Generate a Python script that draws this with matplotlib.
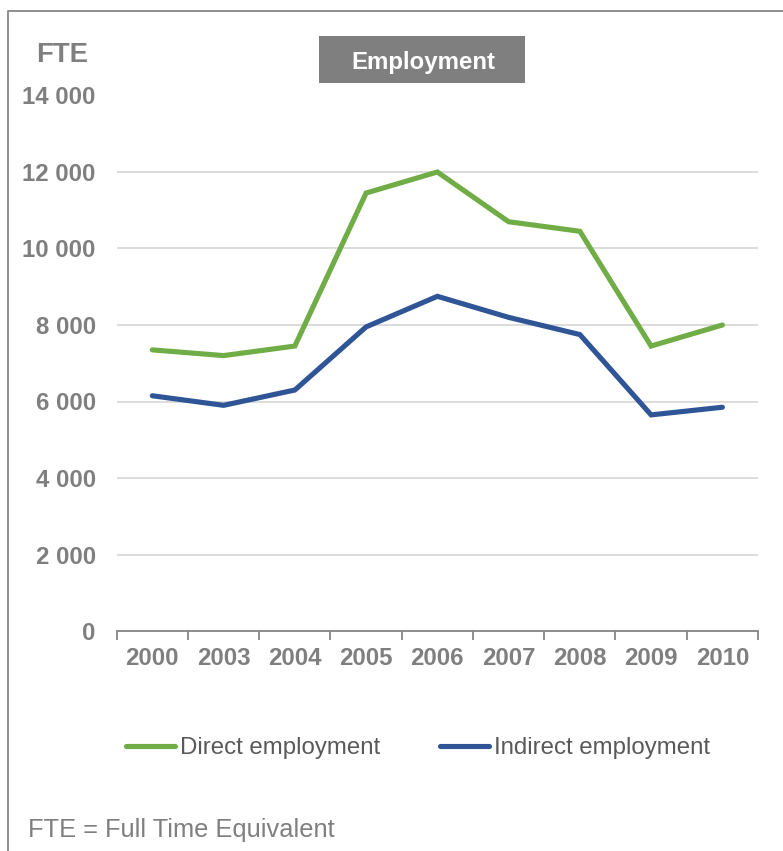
import matplotlib.pyplot as plt
from matplotlib.lines import Line2D
from matplotlib.patches import Rectangle

plt.rcParams['font.family'] = ['Liberation Sans', 'DejaVu Sans']

years = ["2000", "2003", "2004", "2005", "2006", "2007", "2008", "2009", "2010"]
direct_employment = [7350, 7200, 7450, 11450, 12000, 10700, 10450, 7450, 8000]
indirect_employment = [6150, 5900, 6300, 7950, 8750, 8200, 7750, 5650, 5850]
y_ticks = [0, 2000, 4000, 6000, 8000, 10000, 12000, 14000]

W, H = 783, 851
fig = plt.figure(figsize=(W / 100, H / 100), dpi=100)

def fx(px):
    return px / W

def fy(py):
    return 1 - py / H

ax = fig.add_axes([fx(116.7), fy(631), fx(758) - fx(116.7), fy(95.5) - fy(631)])

label_grey = "#7f7f7f"
x = [i + 0.5 for i in range(len(years))]
ax.plot(x, direct_employment, color="#70AD47", lw=3.7, solid_capstyle="round",
        solid_joinstyle="miter", label="Direct employment", zorder=3)
ax.plot(x, indirect_employment, color="#2F5597", lw=3.7, solid_capstyle="round",
        solid_joinstyle="miter", label="Indirect employment", zorder=3)

ax.set_xlim(0, len(years))
ax.set_ylim(0, 14000)

# category boundaries get the tick marks, centres get the labels
ax.set_xticks(range(len(years) + 1))
ax.set_xticklabels([])
ax.set_xticks(x, minor=True)
ax.set_xticklabels(years, minor=True)
ax.tick_params(axis="x", which="major", length=6.5, width=1.3, color="#868686", direction="out")
ax.tick_params(axis="x", which="minor", length=0, pad=11.5, labelsize=17.3, labelcolor=label_grey)
for lab in ax.get_xticklabels(minor=True):
    lab.set_fontweight("bold")

ax.set_yticks(y_ticks)
ax.set_yticklabels([f"{v:,}".replace(",", " ") for v in y_ticks])
ax.tick_params(axis="y", length=0, pad=15, labelsize=17.3, labelcolor=label_grey)
for lab in ax.get_yticklabels():
    lab.set_fontweight("bold")

ax.grid(axis="y", color="#d9d9d9", lw=1.3)
ax.set_axisbelow(True)
for side in ["left", "right", "top"]:
    ax.spines[side].set_visible(False)
ax.spines["bottom"].set_color("#868686")
ax.spines["bottom"].set_linewidth(1.3)
ax.spines["bottom"].set_zorder(4)

# outer frame (left and top edges)
fig.add_artist(Line2D([fx(8), fx(8), 1], [0, fy(11), fy(11)], color="#868686", lw=1.3))

# axis unit
fig.text(fx(36), fy(62.3), "FTE", fontsize=19.8, fontweight="bold", color=label_grey,
         ha="left", va="baseline")

# title box
fig.add_artist(Rectangle((fx(319), fy(82.7)), fx(525) - fx(319), fy(36) - fy(82.7),
                         facecolor="#7f7f7f", edgecolor="none"))
fig.text(fx(423), fy(69.3), "Employment", fontsize=17.3, fontweight="bold", color="white",
         ha="center", va="baseline")

fig.legend(loc="center left", bbox_to_anchor=(fx(125.7), fy(748)), ncol=2, frameon=False,
           fontsize=17.3, labelcolor="#595959", handlelength=2.05, handletextpad=0.2,
           columnspacing=2.5, borderpad=0, borderaxespad=0)

fig.text(fx(28), fy(837.3), "FTE = Full Time Equivalent", fontsize=18.3, color=label_grey,
         ha="left", va="baseline")

fig.savefig("out.png", dpi=100)
